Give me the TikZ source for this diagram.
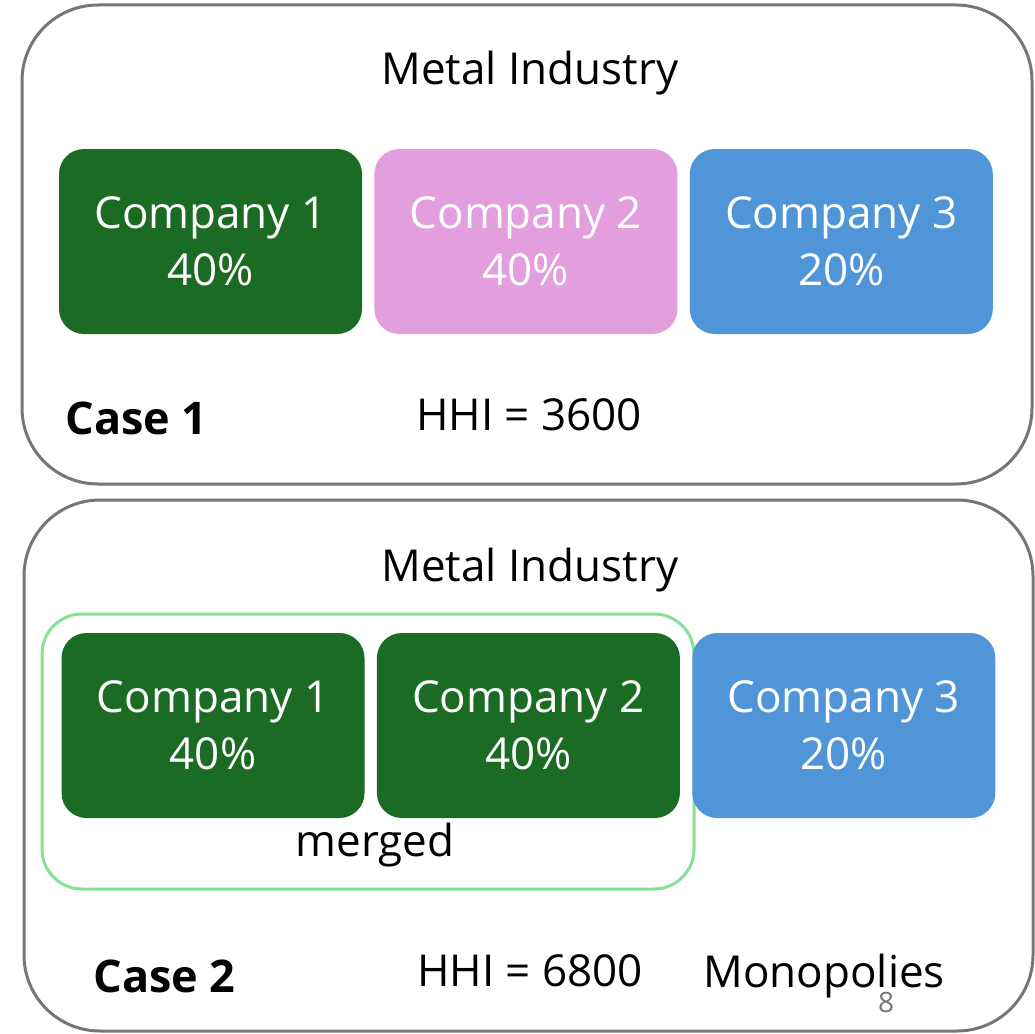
\documentclass[tikz,border=0pt]{standalone}
\usepackage{fontspec}
\setmainfont{Open Sans}
\usetikzlibrary{positioning}

\definecolor{frame}{HTML}{767676}
\definecolor{firmgreen}{HTML}{1B6B24}
\definecolor{firmpink}{HTML}{E39EDD}
\definecolor{firmblue}{HTML}{4F95D8}
\definecolor{mergegreen}{HTML}{88E096}

\begin{document}
\begin{tikzpicture}[x=1pt,y=-1pt,
    market/.style={draw=frame,line width=3pt,rounded corners=76pt},
    firm/.style={rounded corners=25pt,minimum width=303pt,minimum height=185pt,
      text=white,align=center,font=\fontsize{44}{57}\selectfont,inner sep=0pt},
    label/.style={font=\fontsize{44}{50}\selectfont},
    casename/.style={font=\bfseries\fontsize{45}{50}\selectfont,anchor=west}]
  \useasboundingbox (0,0) rectangle (1035,1033);

  % first case: three firms
  \draw[market] (22,5) rectangle (1032,484);
  \node[label] (title1) at (530,73) {Metal Industry};
  \node[firm,fill=firmgreen] (c11) at (210.5,241.5) {Company 1\\40\%};
  \node[firm,fill=firmpink,right=12pt of c11] (c12) {Company 2\\40\%};
  \node[firm,fill=firmblue,right=12pt of c12] (c13) {Company 3\\20\%};
  \node[casename] (case1) at (62,418) {Case 1};
  \node[label] (hhi1) at (529,415) {HHI = 3600};

  % second case: firms 1 and 2 merged
  \draw[market] (24,500) rectangle (1033,1031);
  \node[label] (title2) at (530,570) {Metal Industry};
  \draw[mergegreen,line width=3pt,rounded corners=40pt] (42,614) rectangle (694,889);
  \node[firm,fill=firmgreen] (c21) at (213,725.5) {Company 1\\40\%};
  \node[firm,fill=firmgreen,right=12pt of c21] (c22) {Company 2\\40\%};
  \node[firm,fill=firmblue,right=12pt of c22] (c23) {Company 3\\20\%};
  \node[label] (merged) at (375,845) {merged};
  \node[casename] (case2) at (90,976) {Case 2};
  \node[label] (hhi2) at (530,971) {HHI = 6800};
  \node[label,anchor=west] (mono) at (700,976) {Monopolies};
  \node[text=frame,font=\fontsize{28}{32}\selectfont] (page) at (886,1002) {8};
\end{tikzpicture}
\end{document}
